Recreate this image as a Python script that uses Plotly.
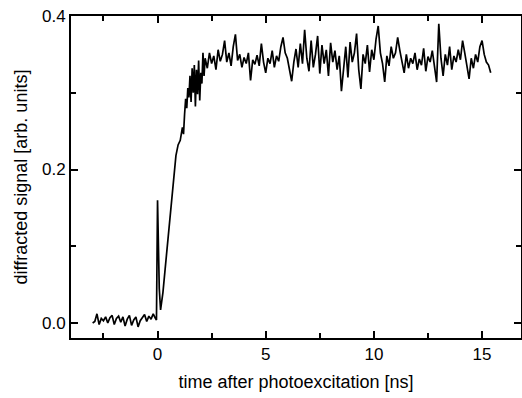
import numpy as np
import plotly.graph_objects as go

# baseline before excitation, t = -3.0 ... -0.1 ns (step 0.1)
baseline_t0, baseline_dt = -3.0, 0.1
baseline_vals = [0.000, 0.002, 0.012, -0.002, 0.006, 0.003, 0.008, 0.000, 0.007, 0.010,
                 -0.002, 0.006, 0.009, 0.001, 0.008, -0.004, 0.005, 0.010, -0.003, 0.004,
                 0.008, -0.005, 0.003, 0.007, 0.011, 0.002, 0.009, 0.005, 0.012, 0.006]

# rise region
rise_t = [-0.05, 0.0, 0.08, 0.14, 0.25, 0.35, 0.45, 0.55, 0.65, 0.75, 0.85, 0.95, 1.05, 1.15,
          1.2, 1.25, 1.3, 1.35, 1.4, 1.45, 1.5, 1.55, 1.6, 1.65, 1.7, 1.75, 1.8, 1.85, 1.9,
          1.95, 2.0, 2.05, 2.1, 2.15]
rise_vals = [0.004, 0.160, 0.045, 0.017, 0.040, 0.070, 0.100, 0.125, 0.165, 0.192, 0.218, 0.232,
             0.238, 0.255, 0.246, 0.272, 0.292, 0.280, 0.306, 0.294, 0.322, 0.288, 0.332, 0.300,
             0.336, 0.282, 0.330, 0.298, 0.342, 0.290, 0.326, 0.312, 0.352, 0.322]

# plateau, t = 2.2 ... 15.4 ns (step 0.1)
plateau_t0, plateau_dt = 2.2, 0.1
plateau_vals = [
    0.345, 0.332, 0.352, 0.338, 0.348, 0.330, 0.356, 0.341, 0.350, 0.368,
    0.340, 0.352, 0.335, 0.360, 0.376, 0.342, 0.350, 0.333, 0.346, 0.338,
    0.352, 0.316, 0.343, 0.337, 0.349, 0.335, 0.364, 0.340, 0.326, 0.345,
    0.338, 0.355, 0.333, 0.348, 0.341, 0.360, 0.372, 0.352, 0.345, 0.330,
    0.315, 0.340, 0.357, 0.333, 0.364, 0.338, 0.382, 0.345, 0.328, 0.368,
    0.333, 0.350, 0.374, 0.325, 0.362, 0.338, 0.356, 0.322, 0.365, 0.340,
    0.355, 0.330, 0.348, 0.302, 0.335, 0.360, 0.320, 0.366, 0.340, 0.352,
    0.377, 0.330, 0.305, 0.350, 0.338, 0.362, 0.327, 0.356, 0.343, 0.370,
    0.387, 0.352, 0.338, 0.314, 0.348, 0.335, 0.360, 0.345, 0.352, 0.372,
    0.355, 0.338, 0.326, 0.350, 0.332, 0.345, 0.338, 0.352, 0.330, 0.344,
    0.336, 0.358, 0.328, 0.347, 0.340, 0.355, 0.332, 0.314, 0.390, 0.345,
    0.322, 0.350, 0.336, 0.360, 0.330, 0.348, 0.340, 0.356, 0.343, 0.368,
    0.352, 0.336, 0.318, 0.345, 0.332, 0.350, 0.340, 0.360, 0.368, 0.350,
    0.340, 0.336, 0.326]

baseline_t = [round(baseline_t0 + i * baseline_dt, 3) for i in range(len(baseline_vals))]
plateau_t = [round(plateau_t0 + i * plateau_dt, 3) for i in range(len(plateau_vals))]

t = baseline_t + rise_t + plateau_t
y = baseline_vals + rise_vals + plateau_vals

fig = go.Figure(go.Scatter(x=t, y=y, mode="lines",
                           line=dict(color="black", width=1.7), hoverinfo="skip"))

tick_font = dict(family="Liberation Sans, Arial, sans-serif", size=17, color="black")
title_font = dict(family="Liberation Sans, Arial, sans-serif", size=18, color="black")
axis_common = dict(showgrid=False, zeroline=False, showline=True, linecolor="black",
                   linewidth=2, mirror="allticks", ticks="inside", ticklen=7,
                   tickwidth=1.5, tickcolor="black", tickfont=tick_font, automargin=False)

fig.update_xaxes(range=[-4.0, 16.8], tickmode="linear", tick0=0, dtick=5,
                 minor=dict(ticks="inside", dtick=2.5, ticklen=5, tickwidth=1.5,
                            tickcolor="black", showgrid=False),
                 title=dict(text="time after photoexcitation [ns]", font=title_font, standoff=12),
                 **axis_common)
fig.update_yaxes(range=[-0.0195, 0.4], tickmode="linear", tick0=0, dtick=0.2,
                 tickformat=".1f",
                 minor=dict(ticks="inside", dtick=0.1, ticklen=5, tickwidth=1.5,
                            tickcolor="black", showgrid=False),
                 title=dict(text="diffracted signal [arb. units]", font=title_font, standoff=10),
                 **axis_common)

fig.update_layout(width=522, height=398, margin=dict(l=71, r=1, t=16, b=60),
                  plot_bgcolor="white", paper_bgcolor="white", showlegend=False,
                  font=tick_font)

fig.write_html("out.html", config={"displayModeBar": False},
               post_script="document.body.style.margin='0';document.body.style.padding='0';")
